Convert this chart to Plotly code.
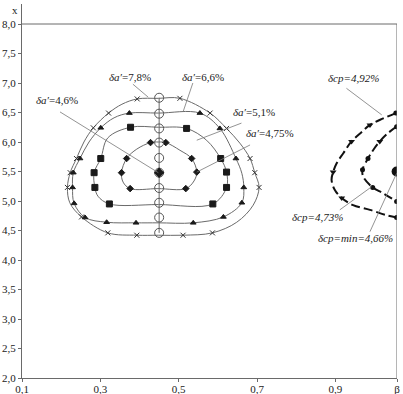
import plotly.graph_objects as go

# ---------------- data ----------------
X_MIN, X_MAX = 0.1, 1.057
Y_MIN, Y_MAX = 2.0, 8.339
Y_BOX = 8.0
X_TICKS = [0.1, 0.3, 0.5, 0.7, 0.9, X_MAX]
X_TICK_TEXT = ["0,1", "0,3", "0,5", "0,7", "0,9", "β"]
Y_TICKS = [2.0, 2.5, 3.0, 3.5, 4.0, 4.5, 5.0, 5.5, 6.0, 6.5, 7.0, 7.5, 8.0]
Y_TICK_TEXT = ["2,0", "2,5", "3,0", "3,5", "4,0", "4,5", "5,0", "5,5", "6,0", "6,5", "7,0", "7,5", "8,0"]

# contour δa' = 7.8 %  (x markers)
C78_X = [0.394, 0.448, 0.503, 0.580, 0.622, 0.656, 0.682, 0.694, 0.705, 0.690, 0.648, 0.586, 0.511, 0.448,
         0.393, 0.319, 0.252, 0.222, 0.216, 0.223, 0.239, 0.258, 0.282, 0.321, 0.355]
C78_Y = [6.73, 6.74, 6.74, 6.49, 6.23, 5.98, 5.72, 5.48, 5.23, 4.93, 4.64, 4.46, 4.42, 4.42,
         4.42, 4.46, 4.73, 4.97, 5.23, 5.48, 5.72, 6.00, 6.24, 6.49, 6.64]
C78_M = [1, 0, 1, 1, 1, 0, 1, 1, 1, 0, 0, 1, 1, 0, 1, 1, 1, 0, 1, 1, 1, 0, 1, 1, 0]

# contour δa' = 6.6 %  (triangles)
C66_X = [0.374, 0.448, 0.554, 0.605, 0.646, 0.661, 0.666, 0.661, 0.614, 0.537, 0.448, 0.391, 0.316,
         0.261, 0.233, 0.229, 0.231, 0.248, 0.271, 0.301, 0.335]
C66_Y = [6.49, 6.49, 6.49, 6.23, 5.72, 5.47, 5.23, 4.97, 4.73, 4.63, 4.63, 4.63, 4.64,
         4.72, 4.96, 5.23, 5.48, 5.72, 6.00, 6.24, 6.41]
C66_M = [1, 0, 1, 1, 1, 0, 1, 1, 1, 1, 0, 1, 1, 1, 1, 1, 1, 1, 0, 1, 0]

# contour δa' = 5.1 %  (squares)
C51_X = [0.377, 0.448, 0.520, 0.571, 0.607, 0.622, 0.622, 0.587, 0.448, 0.323, 0.294, 0.286, 0.284,
         0.301, 0.319]
C51_Y = [6.25, 6.25, 6.23, 6.03, 5.72, 5.49, 5.23, 4.95, 4.94, 4.95, 5.08, 5.23, 5.48,
         5.72, 6.07]
C51_M = [1, 0, 1, 0, 1, 1, 1, 1, 0, 1, 0, 1, 1, 1, 0]

# contour δa' = 4.75 %  (small diamonds)
C475_X = [0.428, 0.448, 0.467, 0.503, 0.533, 0.546, 0.539, 0.518, 0.447, 0.376, 0.358, 0.354, 0.367, 0.393]
C475_Y = [5.99, 6.00, 5.99, 5.86, 5.72, 5.49, 5.34, 5.21, 5.21, 5.21, 5.32, 5.48, 5.72, 5.88]
C475_M = [1, 0, 1, 0, 1, 1, 0, 1, 0, 1, 0, 1, 1, 0]

# optimum line (open circles)
OPT_X = [0.450] * 10
OPT_Y = [6.75, 6.48, 6.23, 5.99, 5.73, 5.48, 5.22, 4.97, 4.72, 4.46]
MIN_A = (0.450, 5.48)

# dashed δcp curves (marker code: 0 none, 1 dot, 2 triangle)
CP492_X = [1.054, 1.022, 0.988, 0.967, 0.941, 0.920, 0.903, 0.894, 0.890, 0.898, 0.916, 0.945, 0.988, 1.030, 1.056]
CP492_Y = [6.49, 6.40, 6.29, 6.17, 6.01, 5.81, 5.64, 5.49, 5.36, 5.19, 5.05, 4.93, 4.85, 4.76, 4.72]
CP492_M = [1, 0, 2, 0, 2, 0, 0, 2, 0, 0, 2, 0, 0, 0, 1]

CP473_X = [1.056, 1.034, 1.013, 0.996, 0.983, 0.969, 0.971, 0.995, 1.022, 1.056]
CP473_Y = [6.26, 6.15, 6.01, 5.86, 5.72, 5.53, 5.41, 5.23, 5.13, 4.99]
CP473_M = [1, 0, 2, 0, 1, 1, 0, 1, 0, 1]

MIN_CP = (1.056, 5.50)

# labels: text, text position, leader start, leader end
LBL_TEXT = ["<i>δa′</i>=4,6%", "<i>δa′</i>=7,8%", "<i>δa′</i>=6,6%", "<i>δa′</i>=5,1%", "<i>δa′</i>=4,75%",
            "<i>δcp=4,92%</i>", "<i>δcp=4,73%</i>", "<i>δcp=min=4,66%</i>"]
LBL_X = [0.1885, 0.3755, 0.562, 0.692, 0.733, 0.947, 0.854, 0.952]
LBL_Y = [6.712, 7.107, 7.10, 6.51, 6.153, 7.085, 4.734, 4.368]
LEAD_X0 = [0.197, 0.383, 0.536, 0.660, 0.682, 0.928, 0.911, 0.988]
LEAD_Y0 = [6.51, 6.98, 7.00, 6.32, 5.95, 6.91, 4.85, 4.48]
LEAD_X1 = [0.448, 0.422, 0.511, 0.546, 0.546, 1.018, 0.992, 1.056]
LEAD_Y1 = [5.48, 6.76, 6.51, 6.03, 5.49, 6.46, 5.24, 5.47]

# ---------------- figure ----------------
FONT = "Liberation Serif, Times New Roman, Times, serif"
fig = go.Figure()
LINE_C = "#6a6a6a"
MARK_C = "#1a1a1a"


def closed(a):
    return list(a) + [a[0]]


def pick(vals, flags, code=None):
    if code is None:
        return [v for v, f in zip(vals, flags) if f]
    return [v for v, f in zip(vals, flags) if f == code]


contours = [
    (C78_X, C78_Y, C78_M, "x-thin", 5, "#333"),
    (C66_X, C66_Y, C66_M, "triangle-up", 5, MARK_C),
    (C51_X, C51_Y, C51_M, "square", 6, MARK_C),
    (C475_X, C475_Y, C475_M, "diamond", 5, MARK_C),
]
for cx, cy, cm, sym, sz, col in contours:
    fig.add_trace(go.Scatter(x=closed(cx), y=closed(cy), mode="lines",
                             line=dict(color=LINE_C, width=1, shape="spline", smoothing=1.0),
                             hoverinfo="skip"))
    fig.add_trace(go.Scatter(x=pick(cx, cm), y=pick(cy, cm), mode="markers",
                             marker=dict(symbol=sym, size=sz, color=col,
                                         line=dict(color=col, width=1))))

# optimum line with circles
fig.add_trace(go.Scatter(x=OPT_X, y=OPT_Y, mode="lines+markers",
                         line=dict(color=LINE_C, width=1),
                         marker=dict(symbol="circle-open", size=9, color="#555",
                                     line=dict(width=1))))
fig.add_trace(go.Scatter(x=[MIN_A[0]], y=[MIN_A[1]], mode="markers",
                         marker=dict(symbol="diamond", size=8, color=MARK_C)))

# dashed cp curves
for cx, cy, cm in [(CP492_X, CP492_Y, CP492_M), (CP473_X, CP473_Y, CP473_M)]:
    fig.add_trace(go.Scatter(x=cx, y=cy, mode="lines",
                             line=dict(color="#111", width=2, dash="9px,4px", shape="spline"),
                             hoverinfo="skip"))
    fig.add_trace(go.Scatter(x=pick(cx, cm, 1), y=pick(cy, cm, 1), mode="markers",
                             marker=dict(symbol="circle", size=5, color="#111")))
    fig.add_trace(go.Scatter(x=pick(cx, cm, 2), y=pick(cy, cm, 2), mode="markers",
                             marker=dict(symbol="triangle-down", size=6, color="#111")))
fig.add_trace(go.Scatter(x=[MIN_CP[0]], y=[MIN_CP[1]], mode="markers",
                         marker=dict(symbol="circle", size=10, color="#111")))

shapes = [
    dict(type="line", xref="x", yref="y", x0=X_MIN, x1=X_MAX, y0=Y_BOX, y1=Y_BOX,
         line=dict(color=LINE_C, width=1)),
    dict(type="line", xref="x", yref="y", x0=X_MAX, x1=X_MAX, y0=Y_MIN, y1=Y_BOX,
         line=dict(color=LINE_C, width=1)),
]
for x0, y0, x1, y1 in zip(LEAD_X0, LEAD_Y0, LEAD_X1, LEAD_Y1):
    shapes.append(dict(type="line", xref="x", yref="y", x0=x0, y0=y0, x1=x1, y1=y1,
                       line=dict(color="#777", width=0.8)))

annots = []
for t, x, y in zip(LBL_TEXT, LBL_X, LBL_Y):
    annots.append(dict(text=t, x=x, y=y, xref="x", yref="y", showarrow=False,
                       font=dict(family=FONT, size=11, color="#222")))
annots.append(dict(text="x", xref="paper", yref="paper", x=-0.02, y=0.984, showarrow=False,
                   xanchor="center", yanchor="middle",
                   font=dict(family=FONT, size=11, color="#222")))

fig.update_layout(
    width=403, height=394,
    margin=dict(l=22, r=6, t=4, b=16, autoexpand=False),
    paper_bgcolor="white", plot_bgcolor="white",
    showlegend=False,
    shapes=shapes, annotations=annots,
    font=dict(family=FONT, size=11, color="#222"),
    xaxis=dict(range=[X_MIN, X_MAX], tickvals=X_TICKS, ticktext=X_TICK_TEXT, automargin=False,
               showgrid=False, zeroline=False, showline=True, linecolor=LINE_C, linewidth=1,
               ticks="outside", ticklen=3, tickcolor=LINE_C, ticklabelstandoff=-2,
               tickfont=dict(family=FONT, size=11, color="#222")),
    yaxis=dict(range=[Y_MIN, Y_MAX], tickvals=Y_TICKS, ticktext=Y_TICK_TEXT, automargin=False,
               showgrid=False, zeroline=False, showline=True, linecolor=LINE_C, linewidth=1,
               ticks="outside", ticklen=3, tickcolor=LINE_C,
               tickfont=dict(family=FONT, size=11, color="#222")),
)

fig.write_html("out.html", config={"displayModeBar": False},
               post_script="document.body.style.margin='0';document.body.style.overflow='hidden';")
